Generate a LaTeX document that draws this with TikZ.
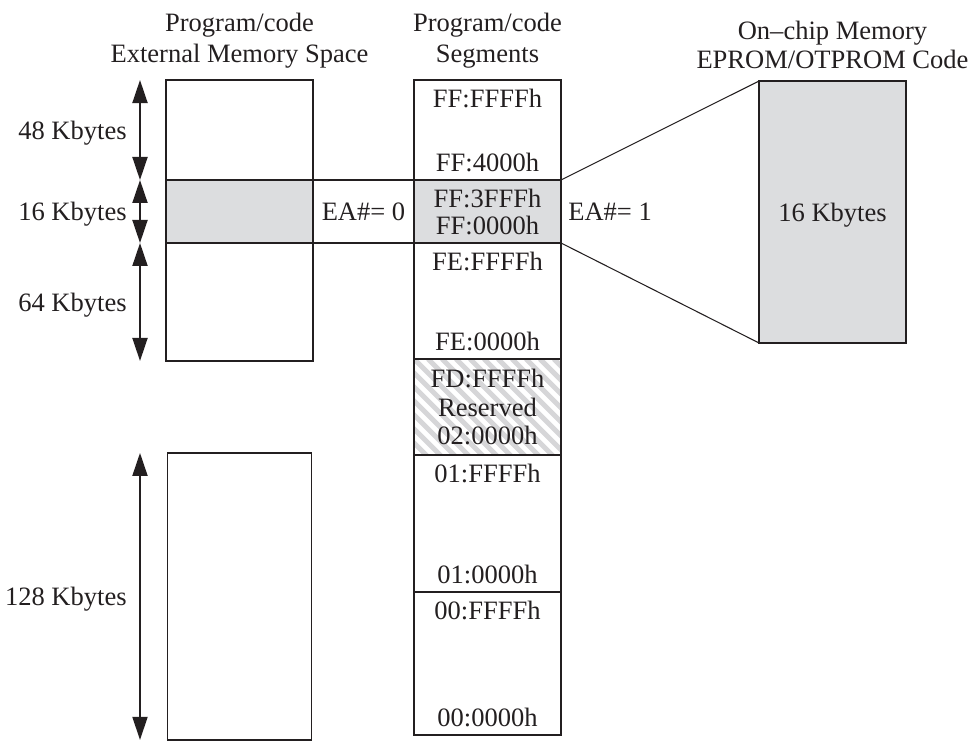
\documentclass[tikz,border=0pt]{standalone}
\usepackage{fontspec}
\setmainfont{Liberation Serif}
\usepackage{tikz}
\usetikzlibrary{positioning}
\usetikzlibrary{calc}
\usetikzlibrary{arrows.meta}
\definecolor{ink}{RGB}{35,31,32}
\definecolor{chipgray}{RGB}{220,221,223}
\definecolor{hatchgray}{RGB}{214,214,216}

\tikzset{
 every node/.style={font=\fontsize{15.1}{17.9}\selectfont, text depth=0pt, text=ink},
 seg/.style={draw=ink, line width=0.7pt, minimum width=2.94cm, inner sep=0pt, outer sep=0pt},
 hi/.style={anchor=north, inner sep=0.17cm},
 lo/.style={anchor=south, inner sep=0.17cm},
 klbl/.style={anchor=east, inner sep=0pt},
 dim/.style={{Triangle[width=0.3cm,length=0.46cm]}-{Triangle[width=0.3cm,length=0.46cm]}, draw=ink, line width=1.1pt},
 link/.style={draw=ink, line width=0.6pt},
 reserved/.style={path picture={\foreach \k in {-8,...,11} \draw[hatchgray, line width=0.1cm] ([xshift=\k*0.28cm]path picture bounding box.north west) -- ++(3cm,-3cm);}}
}

\begin{document}
\begin{tikzpicture}[x=0.02cm, y=-0.02cm]
\useasboundingbox (0,0) rectangle (970,741);

\node[seg, minimum height=2cm] (ext48) at (239.5,130) {};
\node[seg, minimum height=1.26cm, fill=chipgray, below=0pt of ext48] (ext16) {};
\node[seg, minimum height=2.36cm, below=0pt of ext16] (ext64) {};
\node[seg, minimum height=5.74cm, minimum width=2.88cm, below=1.84cm of ext64] (ext128) {};

\node[seg, minimum height=2cm] (ffhi) at (487.5,130) {};
\node[seg, minimum height=1.26cm, fill=chipgray, below=0pt of ffhi, align=center, font=\fontsize{15.1}{15.3}\selectfont] (fflo) {FF:3FFFh\\FF:0000h};
\node[seg, minimum height=2.32cm, below=0pt of fflo] (fe) {};
\node[seg, reserved, minimum height=1.92cm, below=0pt of fe, align=center, font=\fontsize{15.1}{16.4}\selectfont] (res) {FD:FFFFh\\Reserved\\02:0000h};
\node[seg, minimum height=2.74cm, below=0pt of res] (s01) {};
\node[seg, minimum height=2.86cm, below=0pt of s01] (s00) {};

\node[seg, minimum height=5.24cm, fill=chipgray] (onchip) at (832.5,212) {16 Kbytes};

\node[above=0.34cm of ext48, align=center, inner sep=0pt] (exthead) {Program/code\\External Memory Space};
\node[above=0.34cm of ffhi, align=center, inner sep=0pt] (seghead) {Program/code\\Segments};
\node[above=0.24cm of onchip, align=center, inner sep=0pt, font=\fontsize{15.1}{16.4}\selectfont] (chiphead) {On--chip Memory\\EPROM/OTPROM Code};

\foreach \s/\u/\l in {ffhi/FF:FFFFh/FF:4000h, fe/FE:FFFFh/FE:0000h, s01/01:FFFFh/01:0000h, s00/00:FFFFh/00:0000h}{
 \node[hi] (\s-u) at (\s.north) {\u};
 \node[lo] (\s-l) at (\s.south) {\l};
}

\draw[link] (ext16.north east) -- (fflo.north west);
\draw[link] (ext16.south east) -- (fflo.south west);
\draw[link] (fflo.north east) -- (onchip.north west);
\draw[link] (fflo.south east) -- (onchip.south west);

\node (ea0) at ($(ext16.east)!0.5!(fflo.west)$) {EA\#= 0};
\node[right=0.14cm of fflo, inner sep=0pt] (ea1) {EA\#= 1};

\coordinate (ax) at (140,0);
\coordinate (lx) at (127,0);
\foreach \b/\n in {ext48/48, ext16/16, ext64/64, ext128/128}{
 \draw[dim] (ax |- \b.north) -- (ax |- \b.south);
 \node[klbl] (\b-lbl) at (lx |- \b) {\n~Kbytes};
}

\end{tikzpicture}
\end{document}
